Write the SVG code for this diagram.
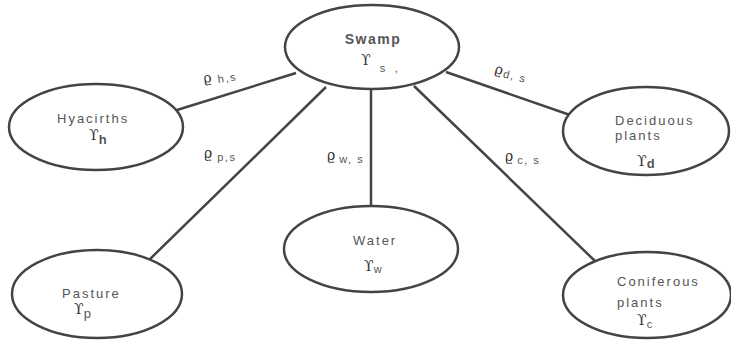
<svg xmlns="http://www.w3.org/2000/svg" width="731" height="340" viewBox="0 0 731 340">
<style>
.n{fill:#fff;stroke:#444;stroke-width:2.5}
.c line{stroke:#444;stroke-width:2.5}
text{font-family:"Liberation Sans","DejaVu Sans",sans-serif;fill:#555;font-size:13px;letter-spacing:2px}
.sym{font-family:"DejaVu Serif","Liberation Serif",serif;font-size:14px;fill:#333;letter-spacing:0}
.sub{font-size:11px;letter-spacing:1.5px}
.b{font-weight:bold}
</style>
<rect width="731" height="340" fill="#fff"/>
<g class="c" id="connectors">
<line x1="177" y1="110" x2="296" y2="73"/>
<line x1="148" y1="261" x2="326" y2="87"/>
<line x1="371" y1="89" x2="371" y2="206"/>
<line x1="414" y1="86" x2="596" y2="262"/>
<line x1="446" y1="72" x2="570" y2="115"/>
<text x="204" y="83" transform="rotate(-8 204 83)"><tspan class="sym">ϱ</tspan><tspan class="sub" dx="6" dy="2">h,s</tspan></text>
<text x="204" y="158"><tspan class="sym">ϱ</tspan><tspan class="sub" dx="5" dy="3">p,s</tspan></text>
<text x="327" y="160"><tspan class="sym">ϱ</tspan><tspan class="sub" dx="4" dy="3">w, s</tspan></text>
<text x="505" y="161"><tspan class="sym">ϱ</tspan><tspan class="sub" dx="4" dy="3">c, s</tspan></text>
<text x="494" y="73" transform="rotate(14 494 73)"><tspan class="sym">ϱ</tspan><tspan class="sub" dx="1" dy="2">d, s</tspan></text>
</g>
<g id="swamp">
<ellipse class="n" cx="372" cy="47" rx="87" ry="42"/>
<text x="373" y="44" text-anchor="middle" class="b" style="font-size:14px;letter-spacing:1.5px">Swamp</text>
<text x="361" y="65"><tspan class="sym">ϒ</tspan><tspan class="sub" dx="9" dy="7">s</tspan><tspan class="sub" dx="8">,</tspan></text>
</g>
<g id="hyacinths">
<ellipse class="n" cx="96" cy="127" rx="87" ry="43"/>
<text x="57" y="123">Hyacirths</text>
<text x="89" y="140"><tspan class="sym">ϒ</tspan><tspan class="b" dy="4">h</tspan></text>
</g>
<g id="deciduous">
<ellipse class="n" cx="646" cy="131" rx="83" ry="44"/>
<text x="615" y="125">Deciduous</text>
<text x="615" y="140">plants</text>
<text x="637" y="166"><tspan class="sym">ϒ</tspan><tspan class="b" dy="2">d</tspan></text>
</g>
<g id="water">
<ellipse class="n" cx="371" cy="249" rx="87" ry="43"/>
<text x="353" y="245">Water</text>
<text x="364" y="271"><tspan class="sym">ϒ</tspan><tspan class="sub" dy="2">w</tspan></text>
</g>
<g id="pasture">
<ellipse class="n" cx="97" cy="294" rx="85" ry="44"/>
<text x="62" y="298">Pasture</text>
<text x="74" y="314"><tspan class="sym">ϒ</tspan><tspan dy="4">p</tspan></text>
</g>
<g id="coniferous">
<ellipse class="n" cx="647" cy="295" rx="84" ry="43"/>
<text x="617" y="286">Coniferous</text>
<text x="617" y="307">plants</text>
<text x="637" y="325"><tspan class="sym">ϒ</tspan><tspan class="sub" dy="3">c</tspan></text>
</g>
</svg>
